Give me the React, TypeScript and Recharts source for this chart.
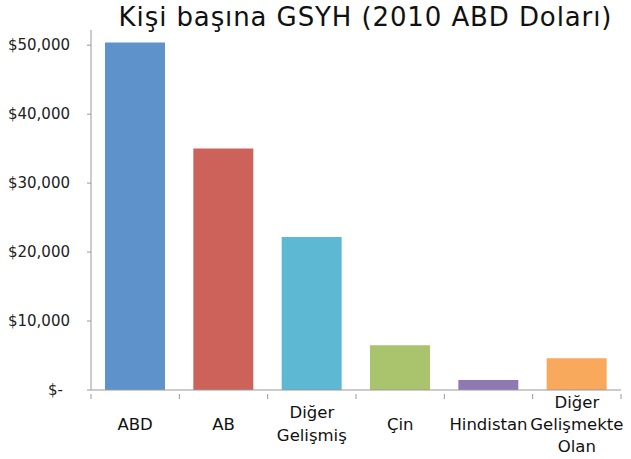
import React from "react";
import { BarChart, Bar, XAxis, YAxis, Cell } from "recharts";

const categories = ["ABD", "AB", "Diğer Gelişmiş", "Çin", "Hindistan", "Diğer Gelişmekte Olan"];
const categoryLines = [["ABD"], ["AB"], ["Diğer", "Gelişmiş"], ["Çin"], ["Hindistan"], ["Diğer", "Gelişmekte", "Olan"]];
const gdpValues = [50400, 35000, 22200, 6500, 1450, 4600];
const barColors = ["#5E92CB", "#CD625A", "#5DB9D3", "#A9C46C", "#9079B3", "#F8A95B"];
const yTicks = [0, 10000, 20000, 30000, 40000, 50000];
const yTickLabels = ["$-", "$10,000", "$20,000", "$30,000", "$40,000", "$50,000"];

const data = categories.map((c, i) => ({ name: c, lines: categoryLines[i], value: gdpValues[i] }));

const W = 631;
const H = 459;
const M = { top: 30, right: 10, left: 0, bottom: 0 };
const YW = 91;
const XH = 69;
const BAND = (W - M.left - M.right - YW) / categories.length;

const XTick = (props: any) => {
  const { x, y, index } = props;
  const lines: string[] = categoryLines[index] || [];
  const lh = lines.length === 2 ? 23 : 22;
  const cy = y + 26;
  const start = cy - ((lines.length - 1) * lh) / 2;
  return (
    <g>
      <line x1={x - BAND / 2} x2={x - BAND / 2} y1={y - 4} y2={y + 1} stroke="#999" />
      {index === categories.length - 1 && (
        <line x1={x + BAND / 2} x2={x + BAND / 2} y1={y - 4} y2={y + 1} stroke="#999" />
      )}
      {lines.map((l, i) => (
        <text key={i} x={x} y={start + i * lh} textAnchor="middle" dominantBaseline="central"
          fontFamily="DejaVu Sans, sans-serif" fontSize={16.5} fill="#111">
          {l}
        </text>
      ))}
    </g>
  );
};

const YTick = (props: any) => {
  const { x, y, payload } = props;
  const idx = yTicks.indexOf(payload.value);
  const label = yTickLabels[idx];
  const shift = payload.value === 0 ? 7 : 0;
  return (
    <text x={x - shift} y={y} textAnchor="end" dominantBaseline="central"
      fontFamily="DejaVu Sans, sans-serif" fontSize={15} fill="#222">
      {label}
    </text>
  );
};

export default function App() {
  return (
    <div style={{ position: "absolute", left: 0, top: 0, width: W, height: H, background: "#fff" }}>
      <div style={{ position: "absolute", left: 0, top: 0, width: W, display: "flex", justifyContent: "center" }}>
        <div style={{ marginLeft: 100, marginTop: 0, fontFamily: "DejaVu Sans, sans-serif", fontSize: 26, letterSpacing: "0.9px", lineHeight: "34px", color: "#111", whiteSpace: "nowrap" }}>
          Kişi başına GSYH (2010 ABD Doları)
        </div>
      </div>
      <BarChart width={W} height={H} data={data} margin={M}>
        <XAxis dataKey="name" height={XH} axisLine={{ stroke: "#999" }} tickLine={false} tick={<XTick />} interval={0} />
        <YAxis width={YW} domain={[0, 52200]} ticks={yTicks} allowDataOverflow
          axisLine={{ stroke: "#999" }} tickLine={{ stroke: "#999" }} tickSize={4} tickMargin={17} tick={<YTick />} />
        <Bar dataKey="value" barSize={60} isAnimationActive={false}>
          {data.map((d, i) => (
            <Cell key={i} fill={barColors[i]} />
          ))}
        </Bar>
      </BarChart>
    </div>
  );
}
